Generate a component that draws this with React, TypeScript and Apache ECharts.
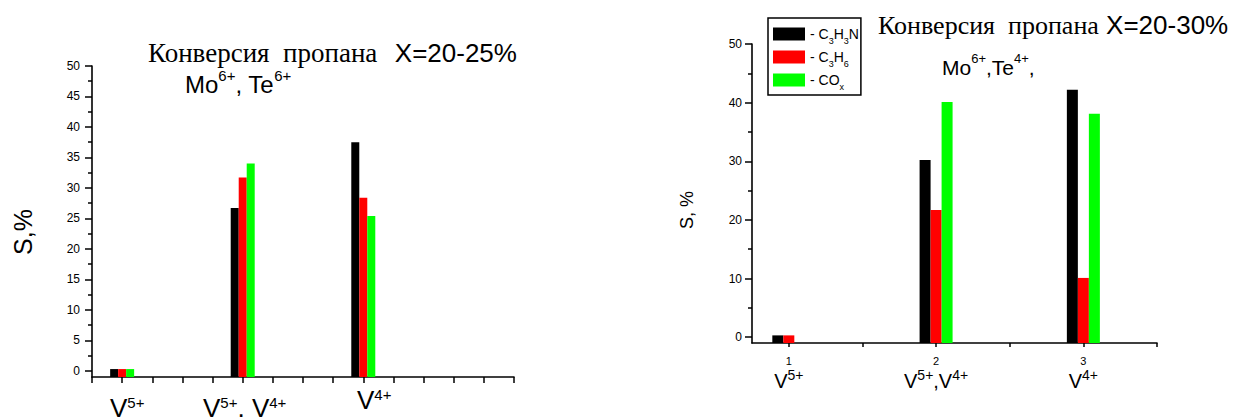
import React, { useEffect, useRef } from 'react';
import * as echarts from 'echarts';

const SANS = '"Liberation Sans", Arial, Helvetica, sans-serif';
const SERIF = '"Liberation Serif", "Times New Roman", serif';

// ---- shared ----
const seriesNames = ['C3H3N', 'C3H6', 'COx'];
const seriesColors = ['#000000', '#ff0000', '#00ff00'];
const legendLabels = ['{t|- C}{b|3}{t|H}{b|3}{t|N}', '{t|- C}{b|3}{t|H}{b|6}', '{t|- CO}{b|x}'];

// ---- left panel: X = 20-25 %, Mo6+, Te6+ ----
const leftGroupPos = [1, 5, 9];
const leftC3H3N = [0.3, 26.7, 37.5];
const leftC3H6 = [0.3, 31.7, 28.4];
const leftCOx = [0.3, 34.0, 25.4];
const leftYMax = 50;
const leftYStep = 5;
const leftGroupLabels = ['{V|V}{s|5+}', '{V|V}{s|5+}{V|, V}{s|4+}', '{V|V}{s|4+}'];
const leftTitle1 = '{a|Конверсия  пропана}{b|  X=20-25%}';
const leftTitle2 = '{m|Mo}{s|6+}{m|, Te}{s|6+}';

// ---- right panel: X = 20-30 %, Mo6+, Te4+ ----
const rightGroupPos = [1, 2, 3];
const rightTickLabels = ['1', '2', '3'];
const rightC3H3N = [0.3, 30.2, 42.2];
const rightC3H6 = [0.3, 21.7, 10.1];
const rightCOx = [null, 40.1, 38.1];
const rightYMax = 50;
const rightYStep = 10;
const rightXTicks = [1, 1.5, 2, 2.5, 3, 3.5];
const rightGroupLabels = ['{V|V}{s|5+}', '{V|V}{s|5+}{V|,V}{s|4+}', '{V|V}{s|4+}'];
const rightTitle1 = '{a|Конверсия  пропана}{b| X=20-30%}';
const rightTitle2 = '{m|Mo}{s|6+}{m|,Te}{s|4+}{m|,}';

const black = '#000';

function bar(name: string, color: string, xs: number[], ys: (number | null)[], xi: number, yi: number, w: number) {
  return {
    type: 'bar',
    name,
    xAxisIndex: xi,
    yAxisIndex: yi,
    barWidth: w,
    barGap: '0%',
    silent: true,
    itemStyle: { color },
    data: xs.map((x, i) => [x, ys[i]]),
  };
}

// bar value axis: -1..50, only the axis line is drawn
function yMain(gridIndex: number, max: number) {
  return {
    type: 'value',
    gridIndex,
    position: 'left',
    min: -1,
    max,
    startValue: -1,
    axisLine: { show: true, onZero: false, lineStyle: { color: black, width: 1.6 } },
    axisTick: { show: false },
    axisLabel: { show: false },
    splitLine: { show: false },
  };
}

// tick/label axis on the 0..max sub-area of the same plot
function yTicks(gridIndex: number, max: number, step: number, margin: number) {
  return {
    type: 'value',
    gridIndex,
    position: 'left',
    min: 0,
    max,
    interval: step,
    axisLine: { show: false, onZero: false },
    axisTick: { show: true, inside: false, length: 7, lineStyle: { color: black, width: 1.5 } },
    minorTick: { show: true, splitNumber: 2, length: 4, lineStyle: { color: black, width: 1.5 } },
    axisLabel: { show: true, margin, color: black, fontSize: 12, fontFamily: SANS },
    splitLine: { show: false },
    minorSplitLine: { show: false },
  };
}

function hiddenX(gridIndex: number) {
  return { type: 'value', gridIndex, min: 0, max: 1, show: false };
}

export default function App() {
  const ref = useRef<HTMLDivElement>(null);

  useEffect(() => {
    if (!ref.current) return;
    const chart = echarts.init(ref.current, undefined, { renderer: 'svg' });

    // main plot areas (y from -1 to 50)
    const L = { left: 92, top: 66, width: 422, height: 311 };
    const R = { left: 752, top: 44, width: 405, height: 299 };
    // 0..50 sub-area of each plot
    const Lsub = { left: L.left, top: L.top, width: L.width, height: (L.height * 50) / 51 };
    const Rsub = { left: R.left, top: R.top, width: R.width, height: (R.height * 50) / 51 };

    const option: any = {
      animation: false,
      backgroundColor: '#fff',
      textStyle: { fontFamily: SANS },
      grid: [L, R, Lsub, Rsub],
      legend: {
        show: true,
        orient: 'vertical',
        left: 768,
        top: 18,
        padding: [9, 2, 4, 5],
        itemWidth: 32,
        itemHeight: 13,
        itemGap: 5,
        borderColor: black,
        borderWidth: 1.5,
        borderRadius: 0,
        selectedMode: false,
        data: seriesNames.map((n) => ({ name: n, icon: 'rect' })),
        formatter: (name: string) => legendLabels[seriesNames.indexOf(name)],
        textStyle: {
          color: black,
          fontFamily: SANS,
          rich: {
            t: { fontSize: 14, lineHeight: 14, color: black, fontFamily: SANS },
            b: { fontSize: 9, lineHeight: 14, verticalAlign: 'top', padding: [9, 0, 0, 0], color: black, fontFamily: SANS },
          },
        },
      },
      xAxis: [
        {
          type: 'value',
          gridIndex: 0,
          min: 0,
          max: 14,
          interval: 1,
          axisLine: { show: true, onZero: false, lineStyle: { color: black, width: 1.6 } },
          axisTick: { show: true, inside: false, length: 6, lineStyle: { color: black, width: 1.5 } },
          axisLabel: { show: false },
          splitLine: { show: false },
        },
        {
          type: 'value',
          gridIndex: 1,
          min: 0.75,
          max: 3.5,
          axisLine: { show: true, onZero: false, lineStyle: { color: black, width: 1.6 } },
          axisTick: { show: true, inside: false, length: 4, customValues: rightXTicks, lineStyle: { color: black, width: 1.5 } },
          axisLabel: {
            show: true,
            customValues: rightGroupPos,
            margin: 10,
            color: black,
            fontFamily: SANS,
            formatter: (v: number) => {
              const i = rightGroupPos.indexOf(v);
              return `{n|${rightTickLabels[i]}}\n${rightGroupLabels[i]}`;
            },
            rich: {
              n: { fontSize: 11, lineHeight: 15, color: black, fontFamily: SANS },
              V: { fontSize: 20, verticalAlign: 'bottom', color: black, fontFamily: SANS },
              s: { fontSize: 14, verticalAlign: 'bottom', padding: [0, 0, 9, 0], color: black, fontFamily: SANS },
            },
          },
          splitLine: { show: false },
        },
        hiddenX(2),
        hiddenX(3),
      ],
      yAxis: [
        yMain(0, leftYMax),
        yMain(1, rightYMax),
        yTicks(2, leftYMax, leftYStep, 12),
        yTicks(3, rightYMax, rightYStep, 10),
      ],
      series: [
        bar(seriesNames[0], seriesColors[0], leftGroupPos, leftC3H3N, 0, 0, 8),
        bar(seriesNames[1], seriesColors[1], leftGroupPos, leftC3H6, 0, 0, 8),
        bar(seriesNames[2], seriesColors[2], leftGroupPos, leftCOx, 0, 0, 8),
        bar(seriesNames[0], seriesColors[0], rightGroupPos, rightC3H3N, 1, 1, 11),
        bar(seriesNames[1], seriesColors[1], rightGroupPos, rightC3H6, 1, 1, 11),
        bar(seriesNames[2], seriesColors[2], rightGroupPos, rightCOx, 1, 1, 11),
      ],
      graphic: [
        // left title
        {
          type: 'text', x: 148, y: 39.5, silent: true,
          style: {
            text: leftTitle1, align: 'left', verticalAlign: 'top', fill: black,
            rich: {
              a: { fontFamily: SERIF, fontSize: 27, fill: black },
              b: { fontFamily: SANS, fontSize: 26, padding: [0, 0, 0, 3], fill: black },
            },
          },
        },
        {
          type: 'text', x: 185, y: 67.7, silent: true,
          style: {
            text: leftTitle2, align: 'left', verticalAlign: 'top', fill: black,
            rich: {
              m: { fontFamily: SANS, fontSize: 24, verticalAlign: 'bottom', fill: black },
              s: { fontFamily: SANS, fontSize: 15, verticalAlign: 'bottom', padding: [0, 0, 14, 0], fill: black },
            },
          },
        },
        // right title
        {
          type: 'text', x: 878, y: 12.3, silent: true,
          style: {
            text: rightTitle1, align: 'left', verticalAlign: 'top', fill: black,
            rich: {
              a: { fontFamily: SERIF, fontSize: 26, fill: black },
              b: { fontFamily: SANS, fontSize: 26, fill: black },
            },
          },
        },
        {
          type: 'text', x: 942, y: 52.2, silent: true,
          style: {
            text: rightTitle2, align: 'left', verticalAlign: 'top', fill: black,
            rich: {
              m: { fontFamily: SANS, fontSize: 21, verticalAlign: 'bottom', fill: black },
              s: { fontFamily: SANS, fontSize: 13, verticalAlign: 'bottom', padding: [0, 0, 13, 0], fill: black },
            },
          },
        },
        // left group labels
        ...leftGroupLabels.map((t, i) => ({
          type: 'text',
          x: [110, 203, 357][i],
          y: [394.6, 394.6, 386.6][i],
          silent: true,
          style: {
            text: t, align: 'left', verticalAlign: 'top', fill: black,
            rich: {
              V: { fontFamily: SANS, fontSize: 26, verticalAlign: 'bottom', fill: black },
              s: { fontFamily: SANS, fontSize: 15, verticalAlign: 'bottom', padding: [0, 0, 11, 0], fill: black },
            },
          },
        })),
        // axis names
        {
          type: 'text', x: 23, y: 232, rotation: Math.PI / 2, silent: true,
          style: { text: 'S,%', align: 'center', verticalAlign: 'middle', fontFamily: SANS, fontSize: 25, fill: black },
        },
        {
          type: 'text', x: 687, y: 210, rotation: Math.PI / 2, silent: true,
          style: { text: 'S, %', align: 'center', verticalAlign: 'middle', fontFamily: SANS, fontSize: 18, fill: black },
        },
      ],
    };

    chart.setOption(option);
    return () => chart.dispose();
  }, []);

  return (
    <div
      ref={ref}
      style={{ position: 'fixed', left: 0, top: 0, width: 1233, height: 417, background: '#fff' }}
    />
  );
}
